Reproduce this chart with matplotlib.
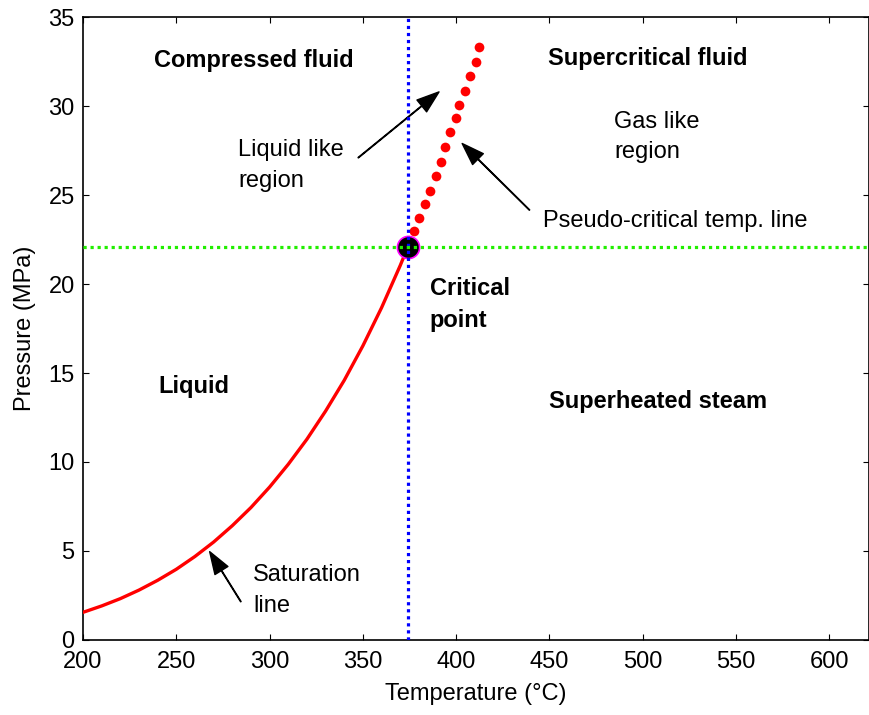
import matplotlib.pyplot as plt

plt.rcParams['font.family'] = ['Liberation Sans', 'DejaVu Sans']

# saturation line of water (°C, MPa)
sat_temp = [200, 210, 220, 230, 240, 250, 260, 270, 280, 290, 300,
            310, 320, 330, 340, 350, 360, 370, 374]
sat_pres = [1.55, 1.91, 2.32, 2.80, 3.35, 3.97, 4.69, 5.50, 6.42, 7.44, 8.59,
            9.87, 11.28, 12.86, 14.59, 16.53, 18.67, 21.04, 22.06]

# pseudo-critical temperature line
pc_temp = [374.0, 377.2, 380.1, 383.1, 386.0, 389.0, 391.7, 393.8, 396.9,
           399.7, 401.7, 404.8, 407.4, 410.4, 412.3]
pc_pres = [22.06, 22.96, 23.74, 24.49, 25.24, 26.08, 26.87, 27.71, 28.52,
           29.36, 30.04, 30.86, 31.69, 32.49, 33.33]

t_crit = 374.0
p_crit = 22.06

fig = plt.figure(figsize=(8.69, 7.15), dpi=100)
ax = fig.add_axes([0.0955, 0.105, 0.904, 0.871])

ax.plot(sat_temp, sat_pres, color='red', lw=2.4, zorder=3)
ax.plot(pc_temp, pc_pres, 'o', color='red', ms=7, mec='none', zorder=3)
ax.plot([t_crit], [p_crit], 'o', color='black', mec='magenta', mew=1.2, ms=16, zorder=4)
ax.axvline(t_crit, color='blue', lw=2.3, ls=(0, (1, 1.2)), zorder=5)
ax.axhline(p_crit, color='#22ee00', lw=2.3, ls=(0, (1, 1.2)), zorder=5)

ax.set_xlim(200, 621)
ax.set_ylim(0, 35)
ax.set_xticks(range(200, 601, 50))
ax.set_yticks(range(0, 36, 5))
ax.tick_params(direction='in', length=4, labelsize=17, top=True, right=True)
ax.tick_params(axis='x', pad=8)
ax.tick_params(axis='y', pad=6)
for s in ax.spines.values():
    s.set_linewidth(1.2)
ax.set_xlabel('Temperature (°C)', fontsize=17, labelpad=7)
ax.set_ylabel('Pressure (MPa)', fontsize=17, labelpad=9)

fs = 17
ls = 1.5
ax.text(291.6, 32.21, 'Compressed fluid', fontsize=fs, fontweight='bold', ha='center', va='baseline')
ax.text(502.6, 32.30, 'Supercritical fluid', fontsize=fs, fontweight='bold', ha='center', va='baseline')
ax.text(259.2, 13.88, 'Liquid', fontsize=fs, fontweight='bold', ha='center', va='baseline')
ax.text(508.3, 13.03, 'Superheated steam', fontsize=fs, fontweight='bold', ha='center', va='baseline')
ax.text(385.8, 17.61, 'Critical\npoint', fontsize=fs, fontweight='bold',
        ha='left', va='baseline', linespacing=ls)

ax.text(484.6, 27.08, 'Gas like\nregion', fontsize=fs, ha='left', va='baseline', linespacing=ls)
ax.text(283.2, 25.47, 'Liquid like\nregion', fontsize=fs, ha='left', va='baseline', linespacing=ls)
ax.text(446.5, 23.22, 'Pseudo-critical temp. line', fontsize=fs, ha='left', va='baseline')
ax.text(291.2, 1.59, 'Saturation\nline', fontsize=fs, ha='left', va='baseline', linespacing=ls)

arrow = dict(facecolor='black', edgecolor='black', width=0.4, headwidth=11, headlength=16, shrink=0)
ax.annotate('', xy=(390.8, 30.8), xytext=(347.5, 27.1), arrowprops=arrow)
ax.annotate('', xy=(403.2, 27.9), xytext=(439.3, 24.16), arrowprops=arrow)
ax.annotate('', xy=(267.9, 4.96), xytext=(284.6, 2.15), arrowprops=arrow)

fig.savefig('out.png', dpi=100)
